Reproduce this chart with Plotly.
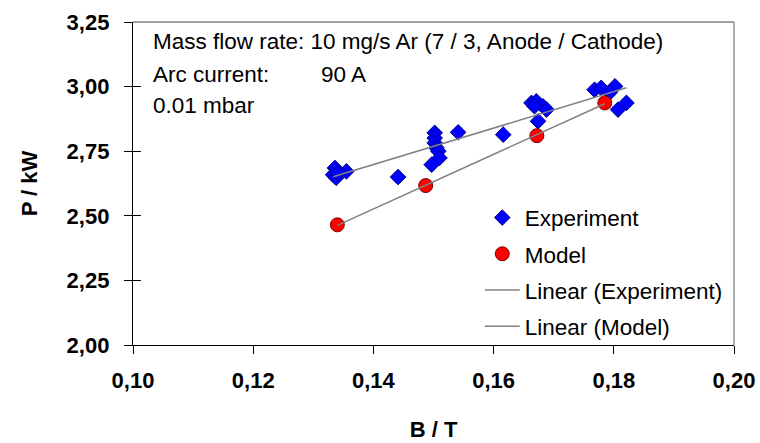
import numpy as np
import plotly.graph_objects as go

# Experiment data (B in T, P in kW)
exp_b = [0.1336, 0.1333, 0.1338, 0.1355, 0.1341, 0.1441,
         0.1502, 0.1502, 0.1502, 0.1505, 0.1508, 0.1510, 0.1497,
         0.1541, 0.1616,
         0.1663, 0.1671, 0.1682, 0.1688, 0.1674, 0.1668,
         0.1768, 0.1779, 0.1802, 0.1793, 0.1821, 0.1807]
exp_p = [2.685, 2.659, 2.647, 2.672, 2.666, 2.650,
         2.821, 2.801, 2.782, 2.763, 2.750, 2.724, 2.698,
         2.823, 2.814,
         2.937, 2.943, 2.924, 2.911, 2.866, 2.924,
         2.988, 2.995, 3.001, 2.976, 2.937, 2.911]

# Model data
mod_b = [0.1340, 0.1487, 0.1672, 0.1785]
mod_p = [2.465, 2.617, 2.810, 2.937]

x_ticks = [0.10, 0.12, 0.14, 0.16, 0.18, 0.20]
y_ticks = [2.00, 2.25, 2.50, 2.75, 3.00, 3.25]

FONT = "Liberation Sans, Arial, sans-serif"
TXT = 22.5
TICK = 22


def fit_line(xs, ys):
    k, d = np.polyfit(xs, ys, 1)
    xx = np.array([min(xs), max(xs)])
    return xx, k * xx + d


fig = go.Figure()

fig.add_trace(go.Scatter(
    x=exp_b, y=exp_p, mode="markers", name="Experiment",
    legendgroup="a",
    marker=dict(symbol="diamond", size=12, color="#0000FF",
                line=dict(color="#000080", width=1))))

fig.add_trace(go.Scatter(
    x=mod_b, y=mod_p, mode="markers", name="Model",
    legendgroup="b",
    marker=dict(symbol="circle", size=14, color="#FF0000",
                line=dict(color="#800000", width=1))))

lx, ly = fit_line(exp_b, exp_p)
fig.add_trace(go.Scatter(
    x=lx, y=ly, mode="lines", name="Linear (Experiment)",
    legendgroup="c", line=dict(color="#808080", width=1.5)))

mx, my = fit_line(mod_b, mod_p)
fig.add_trace(go.Scatter(
    x=mx, y=my, mode="lines", name="Linear (Model)",
    legendgroup="d", line=dict(color="#808080", width=1.5)))

# invisible trace for inner tick overlay axis
fig.add_trace(go.Scatter(x=[x_ticks[0]], y=[y_ticks[0]], yaxis="y2",
                         mode="markers", marker=dict(opacity=0),
                         showlegend=False, hoverinfo="skip"))

fig.update_layout(
    width=760, height=443,
    margin=dict(l=133, r=26, t=22, b=98, autoexpand=False),
    paper_bgcolor="white", plot_bgcolor="white",
    separators=",.",
    font=dict(family=FONT, size=TXT, color="black"),
    showlegend=True,
    legend=dict(x=0.577, y=0.46, xanchor="left", yanchor="top",
                bgcolor="rgba(0,0,0,0)", tracegroupgap=4,
                font=dict(family=FONT, size=TXT, color="black"),
                itemwidth=35),
    xaxis=dict(range=[0.10, 0.20], tickvals=x_ticks, tickformat=".2f",
               automargin=False,
               showgrid=False, zeroline=False, showline=True,
               linecolor="black", linewidth=1.3,
               ticks="outside", ticklen=8, tickcolor="black",
               ticklabelstandoff=7,
               tickfont=dict(family=FONT, size=TICK, color="black", weight="bold"),
               title=dict(text="<b>B / T</b>", standoff=30,
                          font=dict(family=FONT, size=TICK, color="black"))),
    yaxis=dict(range=[2.00, 3.25], tickvals=y_ticks, tickformat=".2f",
               automargin=False,
               showgrid=False, zeroline=False, showline=True,
               linecolor="black", linewidth=1.3,
               ticks="outside", ticklen=8, tickcolor="black",
               ticklabelstandoff=10,
               tickfont=dict(family=FONT, size=TICK, color="black", weight="bold"),
               title=dict(text="<b>P / kW</b>", standoff=22,
                          font=dict(family=FONT, size=TICK, color="black"))),
    yaxis2=dict(range=[2.00, 3.25], tickvals=y_ticks, overlaying="y",
                side="left", showticklabels=False, showgrid=False,
                automargin=False,
                zeroline=False, showline=False,
                ticks="inside", ticklen=8, tickcolor="black"),
    shapes=[
        dict(type="line", xref="paper", yref="paper", x0=0, x1=1, y0=1, y1=1,
             line=dict(color="#808080", width=1.3)),
        dict(type="line", xref="paper", yref="paper", x0=1, x1=1, y0=0, y1=1,
             line=dict(color="#808080", width=1.3)),
    ],
    annotations=[
        dict(text="Mass flow rate: 10 mg/s Ar (7 / 3, Anode / Cathode)",
             xref="paper", yref="paper", x=0.03, y=0.941,
             xanchor="left", yanchor="middle", showarrow=False,
             font=dict(family=FONT, size=TXT, color="black")),
        dict(text="Arc current:", xref="paper", yref="paper", x=0.03, y=0.837,
             xanchor="left", yanchor="middle", showarrow=False,
             font=dict(family=FONT, size=TXT, color="black")),
        dict(text="90 A", xref="paper", yref="paper", x=0.309, y=0.837,
             xanchor="left", yanchor="middle", showarrow=False,
             font=dict(family=FONT, size=TXT, color="black")),
        dict(text="0.01 mbar", xref="paper", yref="paper", x=0.03, y=0.741,
             xanchor="left", yanchor="middle", showarrow=False,
             font=dict(family=FONT, size=TXT, color="black")),
    ],
)

fig.write_html("out.html",
               config={"displayModeBar": False},
               post_script="document.body.style.margin='0px';"
                           "document.body.style.overflow='hidden';")
